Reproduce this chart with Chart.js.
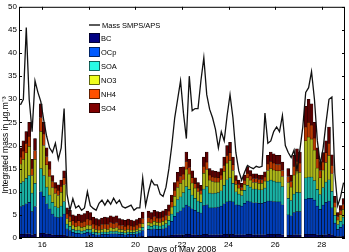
<!DOCTYPE html>
<html>
<head>
<meta charset="utf-8">
<script src="https://cdn.jsdelivr.net/npm/chart.js@4.4.1/dist/chart.umd.min.js"></script>
<style>
  html, body { margin: 0; padding: 0; background: #fff; }
</style>
</head>
<body>
<canvas id="chart" width="349" height="252"></canvas>
<script>
// 3-hourly aerosol composition, May 2008 (null = no sample)
const BC = [0.8, 0.8, 0.9, 0.9, 0.7, 0.8, null,
  1.0, 1.0, 0.9, 0.8, 0.7, 0.6, 0.6, 0.6, 0.7,
  0.4, 0.3, 0.3, 0.2, 0.2, 0.2, 0.2, 0.3,
  0.3, 0.2, 0.2, 0.2, 0.2, 0.2, 0.2, 0.2,
  0.2, 0.2, 0.2, 0.2, 0.2, 0.2, 0.2, 0.2,
  0.2, 0.3, 0.4, null, 0.4, 0.4, 0.4, 0.4,
  0.4, 0.4, 0.4, 0.5, 0.6, 0.7, 0.7, 0.7,
  0.7, 0.8, 0.8, 0.7, 0.7, 0.6, 0.6, 0.8,
  0.8, 0.7, 0.7, 0.7, 0.7, 0.7, 0.8, 0.8,
  0.8, 0.8, 0.7, 0.7, 0.7, 0.7, 0.8, 0.8,
  0.7, 0.7, 0.7, 0.7, 0.7, 0.8, 0.8, 0.8,
  0.8, 0.8, 0.7, null, 0.6, 0.6, 0.7, 0.7, 0.7, null,
  0.8, 0.8, 0.8, 0.8, 0.7, 0.6, 0.7, 0.7,
  0.8, 0.7, 0.4, 0.3, 0.3, 0.4];
const OCp = [6.0, 6.2, 6.5, 6.8, 5.0, 6.0, null,
  9.0, 8.0, 6.5, 5.5, 4.5, 4.0, 3.8, 4.0, 4.5,
  1.6, 1.3, 0.9, 0.8, 0.8, 0.7, 0.8, 0.9,
  0.8, 0.6, 0.5, 0.5, 0.6, 0.6, 0.6, 0.7,
  0.7, 0.7, 0.6, 0.6, 0.5, 0.6, 0.6, 0.6,
  0.7, 0.8, 1.2, null, 1.5, 1.4, 1.6, 1.5,
  1.5, 1.6, 1.8, 2.2, 3.0, 4.0, 4.8, 5.2,
  5.8, 6.3, 6.0, 5.6, 5.3, 5.0, 4.8, 6.2,
  6.4, 5.8, 5.8, 5.9, 6.0, 6.2, 6.6, 7.0,
  7.2, 7.0, 6.5, 6.4, 6.2, 6.8, 7.2, 7.0,
  6.9, 6.9, 6.8, 6.8, 7.0, 7.2, 7.2, 7.1,
  7.0, 7.0, 6.5, null, 4.4, 4.2, 4.8, 5.0, 5.0, null,
  7.6, 7.8, 7.8, 7.4, 6.2, 5.6, 6.4, 7.0,
  7.2, 5.8, 2.8, 1.6, 2.0, 2.5];
const SOA = [5.0, 5.2, 5.5, 5.8, 4.0, 5.0, null,
  5.0, 4.5, 3.6, 3.0, 2.5, 2.2, 2.1, 2.3, 2.7,
  1.0, 0.9, 0.7, 0.6, 0.7, 0.6, 0.6, 0.7,
  0.7, 0.5, 0.5, 0.4, 0.5, 0.5, 0.5, 0.6,
  0.5, 0.6, 0.5, 0.4, 0.4, 0.5, 0.4, 0.4,
  0.5, 0.5, 0.7, null, 0.8, 0.7, 0.8, 0.8,
  0.7, 0.8, 0.9, 1.1, 1.6, 2.2, 2.8, 3.0,
  3.3, 4.0, 3.7, 3.0, 2.6, 2.4, 2.3, 3.6,
  3.9, 3.2, 3.1, 3.1, 3.1, 3.3, 4.0, 4.8,
  5.0, 4.0, 2.8, 2.4, 2.3, 2.8, 3.4, 3.2,
  3.0, 3.0, 2.9, 2.9, 3.1, 4.3, 4.5, 4.4,
  4.3, 4.3, 3.9, null, 3.6, 3.3, 4.0, 4.2, 4.1, null,
  4.6, 4.6, 4.6, 4.2, 3.6, 3.2, 3.8, 4.4,
  4.6, 3.6, 1.7, 1.0, 1.3, 1.6];
const NO3 = [4.2, 4.8, 5.5, 6.3, 3.8, 5.2, null,
  8.0, 6.5, 4.8, 4.0, 3.2, 2.8, 2.7, 3.0, 3.6,
  1.2, 1.1, 0.9, 0.8, 0.9, 0.8, 0.8, 0.9,
  0.9, 0.7, 0.6, 0.6, 0.6, 0.7, 0.6, 0.7,
  0.7, 0.7, 0.6, 0.6, 0.5, 0.6, 0.5, 0.5,
  0.5, 0.6, 0.8, null, 0.7, 0.7, 0.8, 0.7,
  0.7, 0.8, 0.8, 1.0, 1.5, 2.1, 2.6, 2.9,
  2.8, 3.8, 3.3, 2.6, 2.2, 2.0, 1.8, 3.4,
  3.7, 2.8, 2.6, 2.4, 2.3, 2.4, 3.0, 3.6,
  3.8, 2.8, 1.6, 1.3, 1.1, 1.3, 1.6, 1.5,
  1.4, 1.4, 1.4, 1.4, 1.5, 2.3, 2.5, 2.4,
  2.4, 2.4, 2.2, null, 3.4, 2.9, 4.1, 4.6, 4.4, null,
  8.0, 8.6, 8.2, 6.6, 4.6, 3.6, 3.8, 4.2,
  5.2, 3.8, 1.8, 1.0, 1.4, 1.7];
const NH4 = [1.5, 1.8, 2.0, 2.2, 1.5, 1.9, null,
  3.0, 2.5, 1.8, 1.6, 1.3, 1.2, 1.1, 1.3, 1.5,
  1.0, 1.0, 0.9, 1.0, 1.1, 1.1, 1.2, 1.3,
  1.2, 1.0, 1.0, 0.9, 1.0, 1.0, 1.0, 1.1,
  1.0, 1.1, 0.9, 0.9, 0.9, 0.9, 0.9, 0.8,
  0.9, 0.9, 1.1, null, 1.0, 0.9, 1.0, 0.9,
  0.9, 0.9, 0.9, 1.0, 1.1, 1.3, 1.4, 1.5,
  1.2, 1.6, 1.4, 1.1, 0.9, 0.8, 0.8, 1.5,
  1.6, 1.1, 1.0, 1.0, 0.9, 1.0, 1.3, 1.6,
  1.6, 1.2, 0.8, 0.7, 0.6, 0.8, 1.0, 0.9,
  0.8, 0.8, 0.8, 0.8, 0.9, 1.4, 1.5, 1.5,
  1.4, 1.4, 1.3, null, 1.3, 1.2, 1.9, 2.1, 2.0, null,
  3.0, 3.2, 3.0, 2.6, 2.0, 1.6, 1.7, 2.1,
  2.7, 1.8, 1.0, 0.7, 0.9, 1.0];
const SO4 = [2.0, 2.2, 2.6, 3.0, 2.0, 2.6, null,
  3.0, 2.5, 1.9, 1.6, 1.3, 1.2, 1.2, 1.3, 1.5,
  1.3, 1.4, 1.3, 1.4, 1.5, 1.6, 1.7, 1.7,
  1.6, 1.5, 1.4, 1.4, 1.4, 1.5, 1.5, 1.5,
  1.5, 1.5, 1.4, 1.3, 1.3, 1.3, 1.3, 1.2,
  1.2, 1.2, 1.4, null, 1.4, 1.4, 1.4, 1.4,
  1.4, 1.4, 1.4, 1.4, 1.5, 1.7, 1.9, 2.0,
  1.6, 2.1, 1.8, 1.5, 1.3, 1.2, 1.1, 2.0,
  2.2, 1.4, 1.4, 1.3, 1.3, 1.4, 1.8, 2.2,
  2.3, 1.7, 1.1, 1.0, 0.9, 1.2, 1.4, 1.2,
  1.1, 1.1, 1.0, 1.0, 1.1, 1.9, 2.1, 2.0,
  2.0, 2.0, 1.8, null, 1.7, 1.4, 2.4, 2.7, 2.4, null,
  4.5, 5.0, 4.6, 3.4, 2.4, 1.9, 2.1, 2.6,
  3.5, 2.3, 1.3, 0.9, 1.1, 1.3];
const mass = [28.8, 30.0, 45.5, 30.0, 23.0, 34.0, 31.5, 29.5,
  25.5, 22.0, 19.5, 18.5, 20.5, 17.0, 19.5, 28.0,
  9.5, 6.0, 8.5, 6.5, 7.0, 6.0, 6.5, 10.0,
  7.0, 6.4, 6.0, 7.5, 8.2, 7.1, 8.2, 7.3,
  8.6, 7.5, 8.2, 6.8, 6.5, 6.8, 7.1, 6.0,
  6.5, 6.5, 13.0, 7.0, 10.0, 12.5, 11.5, 11.5,
  9.5, 9.0, 11.0, 15.0, 20.0, 26.0, 30.0, 34.0,
  27.0, 21.5, 35.0, 27.5, 28.0, 28.0, 34.0, 39.0,
  31.0, 27.8, 26.0, 23.5, 19.5, 23.0, 21.0, 26.5,
  31.0, 26.0, 18.5, 14.5, 12.5, 14.2, 15.7, 15.3,
  15.0, 15.5, 15.3, 15.5, 27.0, 20.5, 21.0, 23.0,
  24.0, 23.0, 26.5, 20.0, 18.5, 17.4, 19.0, 14.6,
  19.0, 24.0, 31.5, 32.5, 36.0, 30.0, 21.0, 16.0,
  19.5, 25.0, 30.0, 30.5, 14.0, 7.0, 9.0, 12.0];

const xTicks = [16, 18, 20, 22, 24, 26, 28];
const yTicks = [0, 5, 10, 15, 20, 25, 30, 35, 40, 45, 50];
// sample times: middle of each 3 h interval, starting 15 May 00:00
const days = mass.map((_, i) => 15 + (i + 0.5) / 8);

// legend swatches use the plain colormap, the thin bars look darker (black edges)
const legendColors = ['rgb(0,0,130)', 'rgb(0,90,255)', 'rgb(40,250,230)', 'rgb(240,255,30)', 'rgb(255,80,0)', 'rgb(128,0,0)'];
const barColors = ['rgb(0,0,95)', 'rgb(0,62,185)', 'rgb(25,178,165)', 'rgb(172,182,25)', 'rgb(185,58,0)', 'rgb(92,0,0)'];

const FONT = '"Liberation Sans", Arial, sans-serif';
Chart.defaults.font.family = FONT;
Chart.defaults.font.size = 8;
Chart.defaults.color = '#000';

function bars(label, data, k) {
    return {
        type: 'bar', label: label, data: data,
        backgroundColor: barColors[k], borderColor: '#000', borderWidth: 0.5,
        categoryPercentage: 1, barPercentage: 1
    };
}

// box, inward ticks, legend and axis titles in the matlab style
const frame = {
    id: 'frame',
    afterDraw(chart) {
        const ctx = chart.ctx;
        const a = chart.chartArea;
        const x = chart.scales.x, y = chart.scales.y;
        ctx.save();
        ctx.strokeStyle = '#000';
        ctx.lineWidth = 1;
        ctx.strokeRect(a.left + 0.5, a.top + 0.5, a.right - a.left - 1, a.bottom - a.top - 1);
        ctx.beginPath();
        xTicks.forEach(v => {
            const px = Math.round(x.getPixelForValue(v)) + 0.5;
            ctx.moveTo(px, a.bottom); ctx.lineTo(px, a.bottom - 3);
            ctx.moveTo(px, a.top); ctx.lineTo(px, a.top + 3);
        });
        yTicks.forEach(v => {
            const py = Math.round(y.getPixelForValue(v)) + 0.5;
            ctx.moveTo(a.left, py); ctx.lineTo(a.left + 3, py);
            ctx.moveTo(a.right, py); ctx.lineTo(a.right - 3, py);
        });
        ctx.stroke();

        // legend
        const ds = chart.data.datasets;
        ctx.font = '7.5px ' + FONT;
        ctx.textBaseline = 'middle';
        ctx.textAlign = 'left';
        ctx.fillStyle = '#000';
        ctx.lineWidth = 1.3;
        ctx.beginPath(); ctx.moveTo(89, 25); ctx.lineTo(100, 25); ctx.stroke();
        ctx.fillText(ds[0].label, 102, 25.5);
        ctx.lineWidth = 0.6;
        ds.slice(1).forEach((d, k) => {
            const top = 33 + 14 * k;
            ctx.fillStyle = legendColors[k];
            ctx.fillRect(89, top, 11, 10);
            ctx.strokeRect(89.5, top + 0.5, 10, 9);
            ctx.fillStyle = '#000';
            ctx.fillText(d.label, 101, top + 5.5);
        });

        // axis titles
        ctx.font = '8.5px ' + FONT;
        ctx.textAlign = 'center';
        ctx.fillText('Days of May 2008', (a.left + a.right) / 2, 250);
        ctx.translate(6, 145);
        ctx.rotate(-Math.PI / 2);
        ctx.fillText('Integrated mass in \u00b5g.m\u207b\u00b3', 0, 0);
        ctx.restore();
    }
};

new Chart(document.getElementById('chart'), {
    type: 'bar',
    data: {
        labels: days,
        datasets: [
            {
                type: 'line', label: 'Mass SMPS/APS', data: mass,
                borderColor: '#111', borderWidth: 1.3, pointRadius: 0, tension: 0, fill: false
            },
            bars('BC', BC, 0),
            bars('OCp', OCp, 1),
            bars('SOA', SOA, 2),
            bars('NO3', NO3, 3),
            bars('NH4', NH4, 4),
            bars('SO4', SO4, 5)
        ]
    },
    options: {
        responsive: false,
        animation: false,
        layout: { padding: { top: 5, right: 4, left: 0, bottom: 0 } },
        plugins: { legend: { display: false }, tooltip: { enabled: false } },
        scales: {
            x: {
                type: 'linear', stacked: true, offset: false, min: 15, max: 29,
                afterBuildTicks: s => { s.ticks = xTicks.map(v => ({ value: v })); },
                afterFit: s => { s.height = 14; },
                ticks: { autoSkip: false, maxRotation: 0, padding: 2 },
                grid: { display: false, drawTicks: false },
                border: { display: false }
            },
            y: {
                stacked: true, min: 0, max: 50,
                afterBuildTicks: s => { s.ticks = yTicks.map(v => ({ value: v })); },
                afterFit: s => { s.width = 19; },
                ticks: { padding: 2 },
                grid: { display: false, drawTicks: false },
                border: { display: false }
            }
        }
    },
    plugins: [frame]
});
</script>
</body>
</html>
